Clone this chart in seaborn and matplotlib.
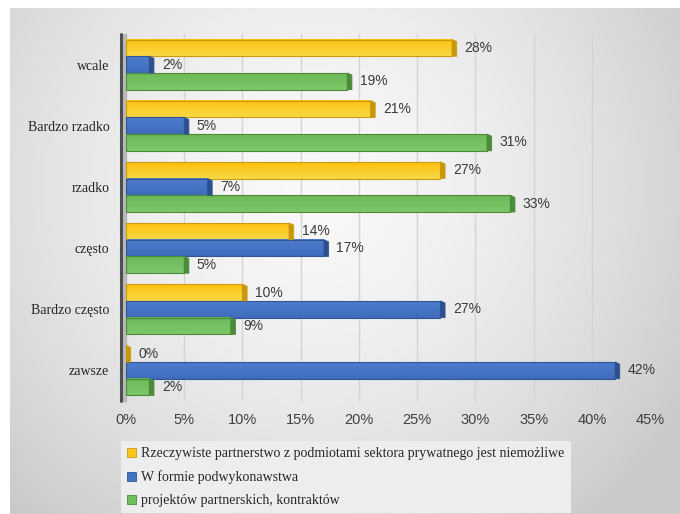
import numpy as np
import pandas as pd
import matplotlib
matplotlib.use("Agg")
import matplotlib.pyplot as plt
from matplotlib.colors import LinearSegmentedColormap
from matplotlib.patches import Polygon, Patch
import seaborn as sns

# ---- data -------------------------------------------------------------
categories = ["wcale", "Bardzo rzadko", "rzadko", "często", "Bardzo często", "zawsze"]
series = [
    "Rzeczywiste partnerstwo z podmiotami sektora prywatnego jest niemożliwe",
    "W formie podwykonawstwa",
    "projektów partnerskich, kontraktów",
]
partnerstwo = [28, 21, 27, 14, 10, 0]
podwykonawstwo = [2, 5, 7, 17, 27, 42]
projekty = [19, 31, 33, 5, 9, 2]
x_ticks = [0, 5, 10, 15, 20, 25, 30, 35, 40, 45]

df = pd.DataFrame({"kategoria": categories,
                   series[0]: partnerstwo,
                   series[1]: podwykonawstwo,
                   series[2]: projekty})
long = df.melt(id_vars="kategoria", var_name="seria", value_name="wartosc")

# ---- styling ----------------------------------------------------------
face = ["#FCC61E", "#4472C4", "#72BE5C"]
top_col = ["#FFBF0F", "#4E7DCE", "#6DB857"]
bot_col = ["#F6DA45", "#3F6BBA", "#7DC86A"]
edge = ["#C99A12", "#2F5597", "#4A8A38"]
side = ["#C8980A", "#2C4F8E", "#4C8B3B"]

sns.set_theme(style="white")
plt.rcParams["font.family"] = ["Liberation Sans", "DejaVu Sans"]

fig = plt.figure(figsize=(6.8, 5.14), dpi=100)
fig.patch.set_facecolor("white")

# soft grey backdrop of the chart area
bg = fig.add_axes([10 / 680, 0, 670 / 680, 506 / 514], zorder=-10)
gx, gy = np.meshgrid(np.linspace(0, 1, 300), np.linspace(0, 1, 240))
r = np.sqrt(((gx - 0.45) / 0.6) ** 2 + ((gy - 0.35) / 0.8) ** 2)
val = np.clip(0.975 - 0.16 * r ** 1.6, 0.79, 1)
bg.imshow(np.dstack([val, val, val]), aspect="auto", extent=(0, 1, 1, 0),
          interpolation="bilinear")
bg.axis("off")

ax = fig.add_axes([126 / 680, (514 - 401) / 514, (650 - 126) / 680, (401 - 34) / 514])
ax.set_facecolor("none")

sns.barplot(data=long, y="kategoria", x="wartosc", hue="seria",
            order=categories, hue_order=series, palette=face,
            orient="h", width=0.82, saturation=1, ax=ax, legend=False)

xmax = 45
d = 0.4     # depth of the bar end face (x units)
dy = 0.035  # slant of the end face (y units)
for i, cont in enumerate(ax.containers):
    cmap = LinearSegmentedColormap.from_list(f"g{i}", [top_col[i], bot_col[i]])
    grad = np.linspace(0, 1, 64).reshape(-1, 1)
    for p in cont.patches:
        x0, y0, w, h = p.get_x(), p.get_y(), p.get_width(), p.get_height()
        if w > 0:
            ax.imshow(grad, cmap=cmap, extent=(x0, x0 + w, y0 + h, y0),
                      aspect="auto", interpolation="bilinear", zorder=2)
        p.set_facecolor("none")
        p.set_edgecolor(edge[i])
        p.set_linewidth(0.8)
        p.set_zorder(3)
        ax.add_patch(Polygon([(x0 + w, y0), (x0 + w + d, y0 + dy),
                              (x0 + w + d, y0 + h), (x0 + w, y0 + h)],
                             closed=True, facecolor=side[i], edgecolor=edge[i],
                             linewidth=0.6, zorder=3))
    vals = [partnerstwo, podwykonawstwo, projekty][i]
    ax.bar_label(cont, labels=[f"{v}%" for v in vals], padding=9,
                 fontsize=10, color="#3a3a3a", zorder=5)

ax.set_xlim(0, xmax)
ax.set_ylim(len(categories) - 0.5, -0.5)

# vertical gridlines
for t in x_ticks[1:]:
    ax.axvline(t, color="#d4d4d4", lw=1.0, zorder=1)

# side wall along the category axis
ax.axvspan(-0.45, 0, color="#b9b9b9", zorder=1, clip_on=False)
ax.axvline(-0.45, color="#505050", lw=2.2, zorder=4, clip_on=False)

for s in ax.spines.values():
    s.set_visible(False)

ax.set_xticks(x_ticks)
ax.set_xticklabels([f"{t}%" for t in x_ticks], fontsize=10.5, color="#404040")
ax.tick_params(axis="x", length=0, pad=9)
ax.tick_params(axis="y", length=0, pad=12)
for lbl in ax.get_yticklabels():
    lbl.set_fontfamily(["Liberation Serif", "DejaVu Serif"])
    lbl.set_fontsize(10)
    lbl.set_color("#262626")
ax.set_xlabel("")
ax.set_ylabel("")

handles = [Patch(facecolor=face[i], edgecolor=edge[i], linewidth=0.6) for i in range(3)]
fig.legend(handles, series, loc="upper left",
           bbox_to_anchor=(121 / 680, 1 - 441 / 514), frameon=True,
           facecolor="#ededed", edgecolor="none", fancybox=False, framealpha=1,
           prop={"family": ["Liberation Serif", "DejaVu Serif"], "size": 10},
           handlelength=0.65, handleheight=0.65, handletextpad=0.35,
           labelspacing=0.72, borderpad=0.45, borderaxespad=0)

fig.savefig("out.png", dpi=100)
